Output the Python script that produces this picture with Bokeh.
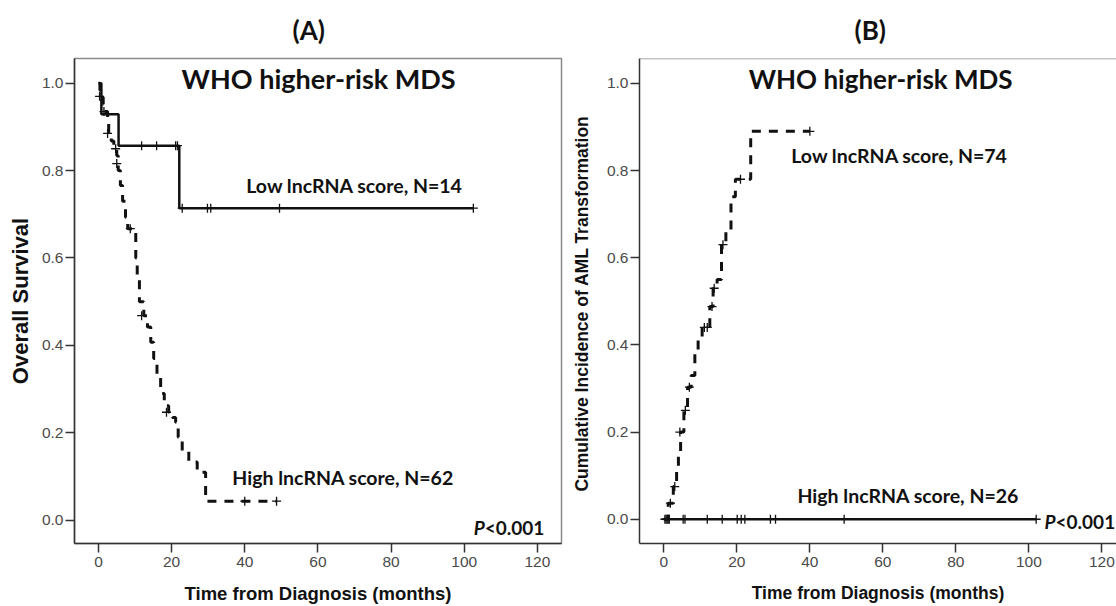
from bokeh.plotting import figure
from bokeh.models import Range1d, Label, FixedTicker, Title, PrintfTickFormatter, Span
from bokeh.layouts import row
from bokeh.embed import file_html
from bokeh.resources import INLINE

# ---------------- data ----------------
x_ticks = [0, 20, 40, 60, 80, 100, 120]
y_ticks = [0.0, 0.2, 0.4, 0.6, 0.8, 1.0]

# Panel A: overall survival
a_low_t = [0, 0.8, 5.5, 22.1, 102.5]
a_low_s = [1.0, 0.929, 0.857, 0.714, 0.714]
a_low_cens_t = [11.8, 15.9, 21.1, 21.6, 22.9, 29.8, 30.7, 49.5, 102.5]
a_low_cens_s = [0.857, 0.857, 0.857, 0.857, 0.714, 0.714, 0.714, 0.714, 0.714]

a_high_t = [0, 0.4, 0.8, 1.3, 1.8, 2.5, 2.8, 3.5, 4.2, 5.0, 5.4, 6.0, 6.6, 7.4, 8.0,
            10.2, 10.6, 11.2, 12.4, 13.4, 14.3, 15.1, 16.0, 17.0, 18.0, 19.2, 20.2,
            21.1, 21.8, 22.9, 24.7, 27.0, 29.3, 48.7]
a_high_s = [1.0, 0.984, 0.968, 0.952, 0.935, 0.918, 0.885, 0.868, 0.851, 0.834, 0.80,
            0.766, 0.73, 0.693, 0.667, 0.60, 0.55, 0.50, 0.468, 0.442, 0.407, 0.37,
            0.33, 0.29, 0.262, 0.247, 0.235, 0.224, 0.19, 0.157, 0.133, 0.11, 0.0435,
            0.0435]
a_high_cens_t = [0.3, 1.5, 2.5, 4.7, 5.0, 8.7, 11.8, 18.6, 40.0, 48.7]
a_high_cens_s = [0.97, 0.935, 0.885, 0.85, 0.816, 0.667, 0.468, 0.247, 0.0435, 0.0435]

# Panel B: cumulative incidence of AML transformation
b_low_t = [0, 1.2, 2.6, 3.5, 4.0, 4.6, 5.5, 6.5, 7.5, 8.5, 9.4, 10.5, 12.6, 13.5, 14.6,
           15.8, 17.0, 18.4, 19.6, 23.8, 40.0]
b_low_v = [0, 0.037, 0.075, 0.112, 0.152, 0.20, 0.25, 0.303, 0.33, 0.38, 0.41, 0.44,
           0.488, 0.53, 0.55, 0.63, 0.66, 0.74, 0.78, 0.89, 0.89]
b_low_cens_t = [1.8, 3.0, 4.4, 5.9, 7.0, 11.1, 11.9, 13.2, 13.8, 16.2, 21.0, 40.0]
b_low_cens_v = [0.037, 0.075, 0.20, 0.25, 0.303, 0.44, 0.44, 0.488, 0.53, 0.63, 0.78, 0.89]

b_high_t = [0, 102.0]
b_high_v = [0, 0]
b_high_cens_t = [0.3, 0.6, 0.9, 1.2, 1.5, 5.3, 5.8, 11.9, 16.0, 20.1, 21.2, 22.2, 29.2,
                 30.6, 49.4, 102.0]
b_high_cens_v = [0] * len(b_high_cens_t)

TITLE_FONT = "Lato"
AX_FONT = "Liberation Sans"
INK = "#111111"


def make_fig(width, xr, yr, ylabel, border_left, border_right, xlab_size, ylab_size,
             xlab_standoff, ylab_standoff, title, title_offset):
    p = figure(width=width, height=606, output_backend="svg", toolbar_location=None,
               x_range=Range1d(*xr), y_range=Range1d(*yr),
               min_border_left=border_left, min_border_right=border_right,
               min_border_top=58, min_border_bottom=63)
    p.add_layout(Title(text=title, align="left", offset=title_offset,
                       vertical_align="top",
                       text_font=TITLE_FONT, text_font_size="26px",
                       text_font_style="bold", text_color=INK, standoff=22), "above")
    p.grid.visible = False
    p.outline_line_color = "#8a8a8a"
    p.outline_line_width = 1.5
    p.background_fill_color = "white"
    p.border_fill_color = "white"
    p.xaxis.ticker = FixedTicker(ticks=x_ticks)
    p.yaxis.ticker = FixedTicker(ticks=y_ticks)
    p.yaxis.formatter = PrintfTickFormatter(format="%.1f")
    for ax in (p.xaxis[0], p.yaxis[0]):
        ax.axis_line_color = "#333333"
        ax.axis_line_width = 1.5
        ax.major_tick_line_color = "#333333"
        ax.major_tick_line_width = 1.5
        ax.major_tick_out = 9
        ax.major_tick_in = 0
        ax.minor_tick_line_color = None
        ax.major_label_text_font = AX_FONT
        ax.major_label_text_font_size = "15.5px"
        ax.major_label_text_color = "#4a4a4a"
        ax.axis_label_text_font = AX_FONT
        ax.axis_label_text_font_style = "bold"
        ax.axis_label_text_color = INK
    p.xaxis.axis_label_text_font_size = xlab_size
    p.yaxis.axis_label_text_font_size = ylab_size
    p.yaxis.major_label_standoff = 2
    p.xaxis.major_label_standoff = 4
    p.xaxis.axis_label = "Time from Diagnosis (months)"
    p.yaxis.axis_label = ylabel
    p.xaxis.axis_label_standoff = xlab_standoff
    p.yaxis.axis_label_standoff = ylab_standoff
    return p


def lab(p, x, y, text, size, align="left", style="bold", font=TITLE_FONT):
    p.add_layout(Label(x=x, y=y, text=text, text_font=font, text_font_size=size,
                       text_font_style=style, text_align=align, text_baseline="middle",
                       text_color=INK))


# ---------------- panel A ----------------
pa = make_fig(566, (-6.55, 126.6), (-0.0533, 1.0565), "Overall Survival", 74, 5,
              "18.5px", "22px", 13, 6, "(A)", 218)
pa.step(a_low_t, a_low_s, mode="after", line_color=INK, line_width=2.5)
pa.step(a_high_t, a_high_s, mode="after", line_color=INK, line_width=3, line_dash="9 8")
pa.scatter(a_low_cens_t, a_low_cens_s, marker="cross", size=9, line_color=INK, line_width=1.3)
pa.scatter(a_high_cens_t, a_high_cens_s, marker="cross", size=9, line_color=INK, line_width=1.3)
lab(pa, 60.2, 1.01, "WHO higher-risk MDS", "27px", align="center")
lab(pa, 40.4, 0.766, "Low lncRNA score, N=14", "19.5px")
lab(pa, 36.6, 0.098, "High lncRNA score, N=62", "19.5px")
lab(pa, 105.6, -0.016, "<0.001", "19px")
lab(pa, 105.6, -0.016, "P", "19px", align="right", style="bold italic")

# ---------------- panel B ----------------
pb = make_fig(550, (-6.66, 124.0), (-0.0556, 1.057),
              "Cumulative Incidence of AML  Transformation", 73, 0, "17.5px", "17.5px",
              13, 12, "(B)", 215)
pb.outline_line_color = None
pb.add_layout(Span(location=1.057, dimension="width", line_color="#8a8a8a", line_width=1.5))
pb.step(b_high_t, b_high_v, mode="after", line_color=INK, line_width=2.5)
pb.step(b_low_t, b_low_v, mode="after", line_color=INK, line_width=3, line_dash="9 8")
pb.scatter(b_high_cens_t, b_high_cens_v, marker="cross", size=9, line_color=INK, line_width=1.3)
pb.scatter(b_low_cens_t, b_low_cens_v, marker="cross", size=9, line_color=INK, line_width=1.3)
lab(pb, 59.4, 1.01, "WHO higher-risk MDS", "26px", align="center")
lab(pb, 34.9, 0.8335, "Low lncRNA score, N=74", "19.5px")
lab(pb, 36.6, 0.054, "High lncRNA score, N=26", "19.5px")
lab(pb, 107.3, -0.005, "<0.001", "19px")
lab(pb, 107.3, -0.005, "P", "19px", align="right", style="bold italic")

layout = row(pa, pb)
open("out.html", "w").write(file_html(layout, INLINE))
